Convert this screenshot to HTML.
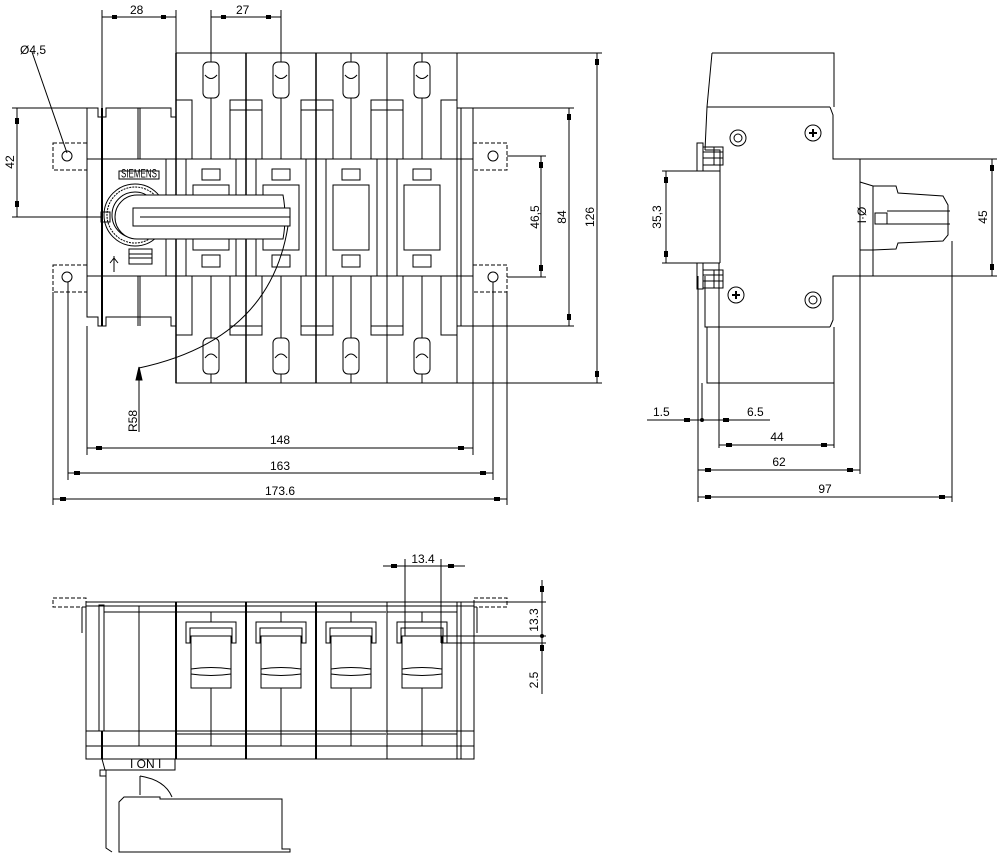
<!DOCTYPE html>
<html><head><meta charset="utf-8"><style>
html,body{margin:0;padding:0;background:#fff}
svg{display:block}
text{font-family:"Liberation Sans",sans-serif;font-size:12px;fill:#000;stroke:none;font-weight:normal}
</style></head><body>
<svg width="1000" height="856" viewBox="0 0 1000 856" xmlns="http://www.w3.org/2000/svg" fill="none" stroke="#000" stroke-width="1">
<defs>
<g id="modT">
  <rect x="27" y="62" width="16" height="36" rx="5"/>
  <path d="M29 75 Q35 82 41 75"/>
  <line x1="35" y1="53" x2="35" y2="62"/>
  <line x1="35" y1="98" x2="35" y2="159"/>
</g>
<g id="modM">
  <rect x="26" y="169" width="18" height="11"/>
  <rect x="17" y="185" width="36" height="65"/>
  <rect x="26" y="255" width="18" height="12"/>
  <line x1="0" y1="159" x2="0" y2="276"/>
  <line x1="-10" y1="159" x2="-10" y2="276"/>
  <line x1="10" y1="159" x2="10" y2="276"/>
</g>
<g id="modB">
  <rect x="27" y="338" width="16" height="36" rx="5"/>
  <path d="M29 358 Q35 350 41 358"/>
  <line x1="35" y1="374" x2="35" y2="383"/>
  <line x1="35" y1="276" x2="35" y2="338"/>
</g>
<g id="bmod">
  <path d="M10 622 H60 V643 H56 V628 H14 V643 H10 Z"/>
  <path d="M15 636 H55 V688 H15 Z"/>
  <path d="M15 669 Q35 666 55 669"/>
  <path d="M15 674 Q35 677 55 674"/>
  <line x1="35" y1="612" x2="35" y2="622"/>
  <line x1="35" y1="688" x2="35" y2="746"/>
  <line x1="0" y1="612" x2="70" y2="612"/>
  <line x1="0" y1="734" x2="70" y2="734"/>
  <line x1="0" y1="746" x2="70" y2="746"/>
</g>
</defs>

<!-- ===== FRONT VIEW ===== -->
<g stroke-dasharray="4 2">
<rect x="53" y="143" width="34" height="27"/>
<rect x="53" y="265" width="34" height="27"/>
<rect x="473" y="143" width="34" height="27"/>
<rect x="473" y="265" width="34" height="27"/>
</g>
<circle cx="67" cy="156" r="5"/><circle cx="67" cy="277" r="5"/>
<circle cx="493" cy="156" r="5"/><circle cx="493" cy="277" r="5"/>
<path d="M87 108 H98 V117 H106 V108 H171 V117 H176 V53 H457 V108 H473 V326 H457 V383 H176 V326 H171 V317 H106 V326 H98 V317 H87 Z"/>
<line x1="87" y1="159" x2="473" y2="159"/>
<line x1="87" y1="276" x2="473" y2="276"/>
<line x1="102" y1="108" x2="102" y2="326" stroke-width="2"/>
<line x1="138" y1="108" x2="138" y2="159"/><line x1="140" y1="108" x2="140" y2="159"/>
<line x1="138" y1="276" x2="138" y2="326"/><line x1="140" y1="276" x2="140" y2="326"/>
<line x1="176" y1="53" x2="176" y2="383" stroke-width="1.5"/>
<line x1="246" y1="53" x2="246" y2="383" stroke-width="1.5"/>
<line x1="316" y1="53" x2="316" y2="383" stroke-width="1.5"/>
<line x1="387" y1="53" x2="387" y2="383"/>
<line x1="457" y1="108" x2="457" y2="326"/>
<line x1="461" y1="108" x2="461" y2="326"/>
<g>
<rect x="176" y="100" width="16" height="59"/><rect x="230" y="100" width="32" height="59"/>
<rect x="301" y="100" width="32" height="59"/><rect x="371" y="100" width="32" height="59"/>
<rect x="441" y="100" width="16" height="59"/>
<rect x="176" y="276" width="16" height="59"/><rect x="230" y="276" width="32" height="59"/>
<rect x="301" y="276" width="32" height="59"/><rect x="371" y="276" width="32" height="59"/>
<rect x="441" y="276" width="16" height="59"/>
<line x1="230" y1="110" x2="262" y2="110"/><line x1="301" y1="110" x2="333" y2="110"/><line x1="371" y1="110" x2="403" y2="110"/>
<line x1="230" y1="326" x2="262" y2="326"/><line x1="301" y1="326" x2="333" y2="326"/><line x1="371" y1="326" x2="403" y2="326"/>
</g>
<use href="#modT" x="176"/><use href="#modT" x="246"/><use href="#modT" x="316"/><use href="#modT" x="387"/>
<use href="#modB" x="176"/><use href="#modB" x="246"/><use href="#modB" x="316"/><use href="#modB" x="387"/>
<use href="#modM" x="176"/><use href="#modM" x="246"/><use href="#modM" x="316"/><use href="#modM" x="387"/>
<!-- handle -->
<rect x="119" y="171" width="40" height="8"/>
<text x="121" y="177.5" font-size="6" textLength="36" lengthAdjust="spacingAndGlyphs">SIEMENS</text>
<circle cx="135" cy="215" r="31"/>
<circle cx="135" cy="215" r="28" stroke-dasharray="2 1"/>
<circle cx="135" cy="215" r="23"/>
<rect x="101" y="212" width="9" height="10"/>
<path d="M137 195 H283 Q287 217 283 239 H137 A22 22 0 0 1 137 195 Z" fill="#fff"/>
<rect x="133" y="208" width="157" height="18" fill="#fff"/>
<line x1="140" y1="217" x2="290" y2="217"/>
<rect x="129" y="249" width="23" height="15"/>
<line x1="129" y1="254" x2="152" y2="254"/><line x1="129" y1="258" x2="152" y2="258"/>
<path d="M114 256 V272 M110 263 L114 258 L118 263"/>
<!-- R58 -->
<path d="M288 226 Q270 340 139 368"/>
<line x1="139" y1="368" x2="139" y2="432"/>
<path d="M136 380 L139 367 L142 380 Z" fill="#000"/>
<text x="139" y="432" transform="rotate(-90 139 432)" dy="-2">R58</text>

<line x1="102" y1="10" x2="102" y2="108"/><line x1="176" y1="10" x2="176" y2="53"/>
<line x1="102" y1="17" x2="176" y2="17"/>
<line x1="211" y1="10" x2="211" y2="53"/><line x1="281" y1="10" x2="281" y2="53"/>
<line x1="211" y1="17" x2="281" y2="17"/>
<line x1="12" y1="108" x2="87" y2="108"/><line x1="12" y1="217" x2="101" y2="217"/>
<line x1="17" y1="108" x2="17" y2="217"/>
<line x1="32" y1="52" x2="67" y2="153"/>
<line x1="507" y1="156" x2="546" y2="156"/><line x1="507" y1="277" x2="546" y2="277"/>
<line x1="541" y1="156" x2="541" y2="277"/>
<line x1="473" y1="108" x2="574" y2="108"/><line x1="473" y1="326" x2="574" y2="326"/>
<line x1="569" y1="108" x2="569" y2="326"/>
<line x1="457" y1="53" x2="602" y2="53"/><line x1="457" y1="383" x2="602" y2="383"/>
<line x1="597" y1="53" x2="597" y2="383"/>
<line x1="87" y1="326" x2="87" y2="455"/><line x1="473" y1="292" x2="473" y2="455"/>
<line x1="87" y1="448" x2="473" y2="448"/>
<line x1="68" y1="282" x2="68" y2="480"/><line x1="493" y1="282" x2="493" y2="480"/>
<line x1="68" y1="473" x2="493" y2="473"/>
<line x1="53" y1="292" x2="53" y2="505"/><line x1="507" y1="292" x2="507" y2="505"/>
<line x1="53" y1="499" x2="507" y2="499"/>
<g fill="#000" stroke="none">
<rect x="112" y="15" width="5" height="4"/><rect x="161" y="15" width="5" height="4"/>
<rect x="221" y="15" width="5" height="4"/><rect x="266" y="15" width="5" height="4"/>
<rect x="15" y="118" width="4" height="6"/><rect x="15" y="201" width="4" height="6"/>
<rect x="539" y="162" width="4" height="6"/><rect x="539" y="265" width="4" height="6"/>
<rect x="567" y="114" width="4" height="6"/><rect x="567" y="314" width="4" height="6"/>
<rect x="595" y="59" width="4" height="6"/><rect x="595" y="371" width="4" height="6"/>
<rect x="96" y="446" width="6" height="4"/><rect x="458" y="446" width="6" height="4"/>
<rect x="74" y="471" width="6" height="4"/><rect x="480" y="471" width="6" height="4"/>
<rect x="60" y="497" width="6" height="4"/><rect x="494" y="497" width="6" height="4"/>
</g>
<text x="130" y="14">28</text>
<text x="236" y="14">27</text>
<text x="20" y="54">Ø4,5</text>
<text x="14" y="162" transform="rotate(-90 14 162)" text-anchor="middle">42</text>
<text x="539" y="217" transform="rotate(-90 539 217)" text-anchor="middle">46,5</text>
<text x="566" y="217" transform="rotate(-90 566 217)" text-anchor="middle">84</text>
<text x="594" y="217" transform="rotate(-90 594 217)" text-anchor="middle">126</text>
<text x="280" y="444" text-anchor="middle">148</text>
<text x="280" y="470" text-anchor="middle">163</text>
<text x="280" y="495" text-anchor="middle">173.6</text>

<!-- ===== SIDE VIEW ===== -->
<path d="M712 53 H834 V107"/>
<path d="M712 53 L707 107 L705 150"/>
<line x1="707" y1="107" x2="830" y2="107"/>
<path d="M830 107 L833 115 V159 H860 V276 H833 V320 L830 327"/>
<path d="M705 150 H720 V171 M705 276 V327 H830"/>
<line x1="834" y1="327" x2="834" y2="383"/>
<path d="M707 327 V383 H834"/>
<rect x="697" y="143" width="6" height="28"/><rect x="703" y="147" width="20" height="18"/>
<line x1="703" y1="152" x2="723" y2="152"/><line x1="703" y1="158" x2="723" y2="158"/><line x1="714" y1="147" x2="714" y2="165"/>
<rect x="697" y="263" width="6" height="26"/><rect x="703" y="270" width="20" height="18"/>
<line x1="703" y1="275" x2="723" y2="275"/><line x1="703" y1="281" x2="723" y2="281"/><line x1="714" y1="270" x2="714" y2="288"/>
<line x1="720" y1="171" x2="720" y2="263"/>
<line x1="700" y1="171" x2="720" y2="171"/><line x1="700" y1="263" x2="720" y2="263"/>
<circle cx="738" cy="138" r="8"/><circle cx="738" cy="138" r="4"/>
<circle cx="813" cy="133" r="8"/><path d="M809 133 H817 M813 129 V137" stroke-width="2"/>
<circle cx="736" cy="295" r="8"/><path d="M732 295 H740 M736 291 V299" stroke-width="2"/>
<circle cx="813" cy="300" r="8"/><circle cx="813" cy="300" r="4"/>
<path d="M860 182 L873 186 L896 186 L898 193 L943 196 L948 205 V235 L943 241 L898 243 L896 249 L873 250 L860 250"/>
<line x1="873" y1="186" x2="873" y2="276"/>
<rect x="875" y="213" width="12" height="11"/>
<line x1="887" y1="211" x2="950" y2="211"/><line x1="887" y1="224" x2="950" y2="224"/>
<text x="866" y="215" font-size="7" transform="rotate(-90 866 215)" text-anchor="middle">I·Ø</text>
<line x1="860" y1="159" x2="997" y2="159"/><line x1="860" y1="276" x2="997" y2="276"/>
<line x1="992" y1="159" x2="992" y2="276"/>
<line x1="662" y1="171" x2="700" y2="171"/><line x1="662" y1="263" x2="700" y2="263"/>
<line x1="666" y1="171" x2="666" y2="263"/>
<line x1="698" y1="276" x2="698" y2="502"/>
<line x1="702" y1="383" x2="702" y2="420"/>
<line x1="719" y1="263" x2="719" y2="448"/>
<line x1="834" y1="383" x2="834" y2="448"/>
<line x1="860" y1="276" x2="860" y2="474"/>
<line x1="952" y1="241" x2="952" y2="502"/>
<line x1="647" y1="420" x2="770" y2="420"/>
<line x1="719" y1="445" x2="834" y2="445"/>
<line x1="698" y1="470" x2="860" y2="470"/>
<line x1="698" y1="497" x2="952" y2="497"/>
<g fill="#000" stroke="none">
<rect x="990" y="165" width="4" height="6"/><rect x="990" y="264" width="4" height="6"/>
<rect x="664" y="177" width="4" height="6"/><rect x="664" y="251" width="4" height="6"/>
<rect x="684" y="418" width="6" height="4"/><rect x="723" y="418" width="6" height="4"/><circle cx="702" cy="420" r="2"/>
<rect x="726" y="443" width="6" height="4"/><rect x="821" y="443" width="6" height="4"/>
<rect x="705" y="468" width="6" height="4"/><rect x="847" y="468" width="6" height="4"/>
<rect x="705" y="495" width="6" height="4"/><rect x="939" y="495" width="6" height="4"/>
</g>
<text x="987" y="217" transform="rotate(-90 987 217)" text-anchor="middle">45</text>
<text x="661" y="217" transform="rotate(-90 661 217)" text-anchor="middle">35,3</text>
<text x="653" y="416">1.5</text>
<text x="747" y="416">6.5</text>
<text x="777" y="441" text-anchor="middle">44</text>
<text x="779" y="466" text-anchor="middle">62</text>
<text x="825" y="493" text-anchor="middle">97</text>

<!-- ===== BOTTOM VIEW ===== -->
<g stroke-dasharray="4 2">
<rect x="53" y="598" width="33" height="9"/>
<rect x="474" y="598" width="33" height="9"/>
</g>
<path d="M82 607 V633 M477 607 V633"/>
<rect x="86" y="602" width="388" height="157"/>
<line x1="86" y1="606" x2="474" y2="606"/>
<rect x="99" y="605" width="5" height="126"/>
<rect x="104" y="606" width="72" height="125"/>
<line x1="139" y1="606" x2="139" y2="746"/>
<line x1="104" y1="612" x2="176" y2="612"/>
<line x1="86" y1="731" x2="474" y2="731"/>
<line x1="86" y1="746" x2="474" y2="746"/>
<line x1="102" y1="731" x2="102" y2="759" stroke-width="2"/>
<line x1="176" y1="602" x2="176" y2="759" stroke-width="2"/>
<line x1="246" y1="602" x2="246" y2="759" stroke-width="2"/>
<line x1="316" y1="602" x2="316" y2="759" stroke-width="2"/>
<line x1="387" y1="602" x2="387" y2="759"/>
<line x1="457" y1="602" x2="457" y2="759"/>
<line x1="461" y1="602" x2="461" y2="759"/>
<use href="#bmod" x="176"/><use href="#bmod" x="246"/><use href="#bmod" x="316"/><use href="#bmod" x="387"/>
<path d="M102 759 L105 770 H175 V759"/>
<text x="130" y="768" font-size="6">I ON I</text>
<path d="M100 770 H106 V776 H100 Z"/>
<path d="M106 776 V848 L112 852"/>
<path d="M140 776 V795 M140 776 Q165 780 172 797"/>
<path d="M119 850 V802 L124 797 H160 V799 H282 V849 H290 V852 H119 Z"/>
<line x1="383" y1="566" x2="465" y2="566"/>
<line x1="405" y1="559" x2="405" y2="636"/>
<line x1="441" y1="559" x2="441" y2="643"/>
<line x1="474" y1="602" x2="546" y2="602"/>
<line x1="441" y1="636" x2="546" y2="636"/>
<line x1="441" y1="643" x2="546" y2="643"/>
<line x1="542" y1="580" x2="542" y2="694"/>
<g fill="#000" stroke="none">
<rect x="391" y="564" width="6" height="4"/><rect x="448" y="564" width="6" height="4"/>
<rect x="540" y="586" width="4" height="6"/><circle cx="542" cy="636" r="2"/>
<rect x="540" y="645" width="4" height="6"/>
</g>
<text x="423" y="563" text-anchor="middle">13.4</text>
<text x="538" y="620" transform="rotate(-90 538 620)" text-anchor="middle">13.3</text>
<text x="538" y="680" transform="rotate(-90 538 680)" text-anchor="middle">2.5</text>
</svg>
</body></html>
